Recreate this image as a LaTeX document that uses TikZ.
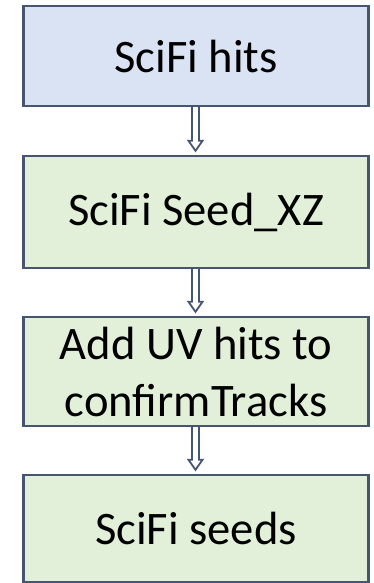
\documentclass[tikz,border=0pt]{standalone}
\usepackage{fontspec}
\setmainfont{Carlito}
\usetikzlibrary{calc}
\definecolor{edgecol}{RGB}{70,86,112}
\definecolor{bluefill}{HTML}{DAE3F3}
\definecolor{greenfill}{HTML}{E2F0D9}
\tikzset{
  box/.style={draw=edgecol, line width=2.4pt, minimum width=345pt, inner sep=0pt,
    align=center, font=\fontsize{46.6}{57}\selectfont, text=black},
  hollow/.style={draw=edgecol, line width=1.8pt, fill=white, line join=miter},
}
\begin{document}
\begin{tikzpicture}[x=1pt,y=1pt]
\useasboundingbox (0,0) rectangle (373,-583);
\node[box, fill=bluefill, minimum height=100pt] (b1) at (196,-56) {SciFi hits};
\node[box, fill=greenfill, minimum height=112pt] (b2) at (196,-212) {SciFi Seed\_XZ};
\node[box, fill=greenfill, minimum height=109pt] (b3) at (196,-371.5) {Add UV hits to\\confirmTracks};
\node[box, fill=greenfill, minimum height=107pt] (b4) at (196,-528.5) {SciFi seeds};
\foreach \a/\b in {b1/b2,b2/b3,b3/b4}{
  \coordinate (tip) at ($(\b.north)+(-0.5,4)$);
  \coordinate (top) at ($(\a.south)+(-0.5,0)$);
  \draw[hollow] ($(top)+(-3.5,0)$) -- ($(tip)+(-3.5,10)$) -- ($(tip)+(-7,10)$) -- (tip)
    -- ($(tip)+(7,10)$) -- ($(tip)+(3.5,10)$) -- ($(top)+(3.5,0)$);
}
\end{tikzpicture}
\end{document}
